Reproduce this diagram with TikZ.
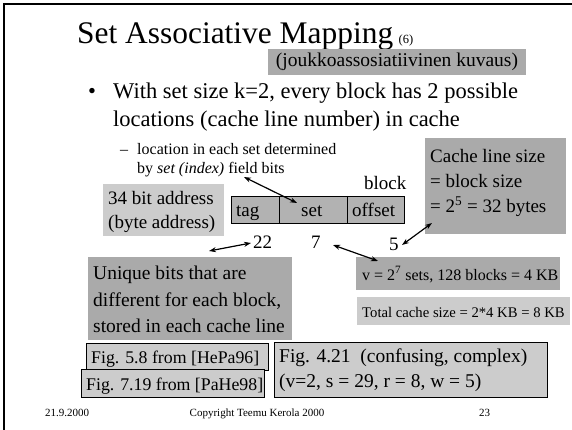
\documentclass[tikz,border=0pt]{standalone}
\usepackage{fontspec}
\usepackage{graphicx}
\setmainfont{Liberation Serif}
\usetikzlibrary{arrows.meta}
\definecolor{boxdark}{RGB}{170,170,170}
\definecolor{boxmid}{RGB}{178,178,178}
\definecolor{boxlight}{RGB}{204,204,204}
\tikzset{
  lbl/.style={anchor=base west, inner sep=0pt},
  darkbox/.style={fill=boxdark, draw=none},
  lightbox/.style={fill=boxlight, draw=none},
  figbox/.style={fill=boxlight, draw=black, line width=0.8pt},
  dbl/.style={{Stealth[length=7pt,width=5pt]}-{Stealth[length=7pt,width=5pt]}, line width=1.2pt},
}
\newcommand{\fs}[1]{\fontsize{#1}{#1}\selectfont}
\begin{document}
\begin{tikzpicture}[x=1pt,y=-1pt]
\useasboundingbox (0,0) rectangle (572,430);
% slide frame
\draw[line width=2pt] (4,430) -- (4,4) -- (572,4);

% title
\node[lbl] (title) at (77,44) {\resizebox{316pt}{!}{\fs{31}Set Associative Mapping}};
\node[lbl] (titlenum) at ([xshift=5pt]title.base east) {\fs{12.5}(6)};

% Finnish term
\fill[darkbox] (268,49) rectangle (526,75);
\node (fin) at (397,62) {\fs{19.5}(joukkoassosiatiivinen kuvaus)};

% bullet text
\node[lbl] (b0) at (88,99) {\fs{22.5}•};
\node[lbl] (b1) at (113,99) {\fs{22.5}With set size k=2, every block has 2 possible};
\node[lbl] (b2) at (113,127) {\fs{22.5}locations (cache line number) in cache};
\node[lbl] (s0) at (120,155) {\fs{16}–};
\node[lbl] (s1) at (137,155) {\fs{16}location in each set determined};
\node[lbl] (s2) at (137,174) {\fs{16}by \textit{set (index)} field bits};

% address box
\fill[lightbox] (103,184) rectangle (224,236);
\node[lbl] (addr1) at (108,205) {\fs{19}34 bit address};
\node[lbl] (addr2) at (108,229) {\fs{19}(byte address)};

% address fields
\fill[boxmid] (231,196) rectangle (404,223);
\draw[line width=0.8pt] (231,196) rectangle (404,223) (279,196) -- (279,223) (347,196) -- (347,223);
\node[lbl] (ftag) at (236,216) {\fs{19}tag};
\node[lbl] (fset) at (301,216) {\fs{19}set};
\node[lbl] (foff) at (352,216) {\fs{19}offset};
\node[lbl] (fblk) at (364,190) {\fs{19}block};
\node[lbl] (n22) at (253,248) {\fs{19}22};
\node[lbl] (n7) at (311,248) {\fs{19}7};
\node[lbl] (n5) at (389,250) {\fs{19}5};

% cache line size
\fill[darkbox] (425,138) rectangle (566,234);
\node[lbl] (cl1) at (430,163) {\fs{19}Cache line size};
\node[lbl] (cl2) at (430,188) {\fs{19}= block size};
\node[lbl] (cl3) at (430,212) {\fs{19}= 2\textsuperscript{5} = 32 bytes};

% unique bits
\fill[darkbox] (88,257) rectangle (292,340);
\node[lbl] (u1) at (93,279) {\fs{19.5}Unique bits that are};
\node[lbl] (u2) at (93,306) {\fs{19.5}different for each block,};
\node[lbl] (u3) at (93,332) {\fs{19.5}stored in each cache line};

% set count and total size
\fill[darkbox] (356,257) rectangle (560,290);
\node[lbl] (v) at (362,280) {\fs{16}v = 2\textsuperscript{7} sets, 128 blocks = 4 KB};
\fill[lightbox] (357,297) rectangle (570,325);
\node[lbl] (tot) at (362,317) {\fs{14.7}Total cache size = 2*4 KB = 8 KB};

% figure references
\draw[figbox] (86,343) rectangle (268,370);
\node[lbl] (f58) at (91,363) {\fs{17.8}Fig. 5.8 from [HePa96]};
\draw[figbox] (81,369) rectangle (264,397);
\node[lbl] (f719) at (86,390) {\fs{17.8}Fig. 7.19 from [PaHe98]};
\draw[figbox] (274,342) rectangle (547,397);
\node[lbl] (f421a) at (279,362) {\fs{19.5}Fig. 4.21\ \ (confusing, complex)};
\node[lbl] (f421b) at (279,387) {\fs{19.5}(v=2, s = 29, r = 8, w = 5)};

% arrows
\coordinate (a1s) at (244,177); \coordinate (a1e) at (297,203);
\coordinate (a2s) at (209,251); \coordinate (a2e) at (251,243);
\coordinate (a3s) at (333,245); \coordinate (a3e) at (378,261);
\coordinate (a4s) at (402,245); \coordinate (a4e) at (432,223);
\draw[dbl] (a1s) -- (a1e);
\draw[dbl] (a2s) -- (a2e);
\draw[dbl] (a3s) -- (a3e);
\draw[dbl] (a4s) -- (a4e);

% footer
\node[lbl] (date) at (45,416) {\fs{11}21.9.2000};
\node[anchor=base, inner sep=0pt] (copy) at (257,416) {\fs{11}Copyright Teemu Kerola 2000};
\node[lbl] (page) at (479,416) {\fs{11}23};
\end{tikzpicture}
\end{document}
